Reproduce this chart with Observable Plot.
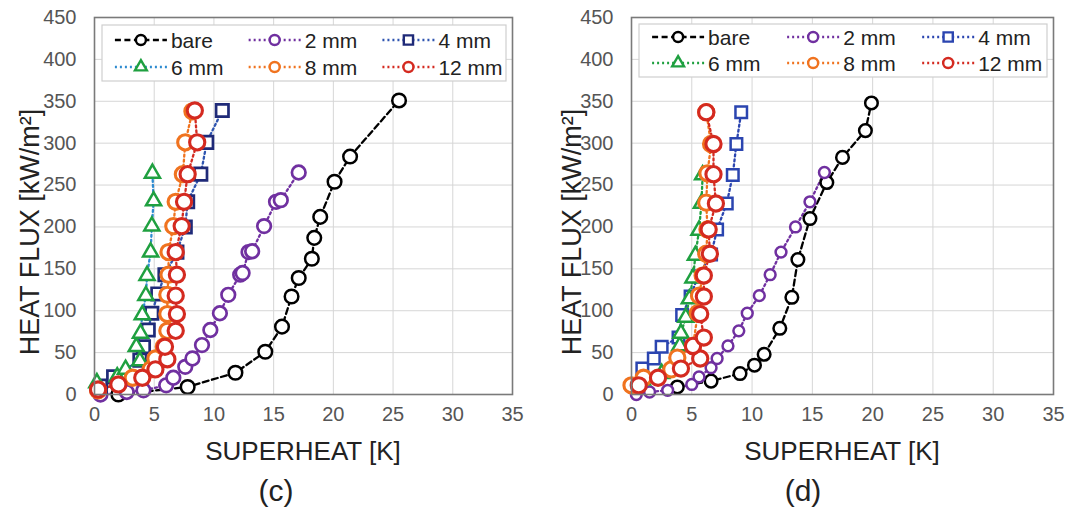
<!DOCTYPE html>
<html><head><meta charset="utf-8">
<script src="https://cdn.jsdelivr.net/npm/d3@7"></script>
<script src="https://cdn.jsdelivr.net/npm/@observablehq/plot@0.6"></script>
<style>
body{margin:0;background:#fff;font-family:"Liberation Sans",Arial,sans-serif;}
#wrap{position:relative;width:1067px;height:511px;overflow:hidden;}
.panel{position:absolute;top:0;}
.t{position:absolute;color:#222;white-space:nowrap;transform:translate(-50%,-50%);}
.xl{font-size:26px;}
.cap{font-size:30px;}
.yl{font-size:27px;transform:translate(-50%,-50%) rotate(-90deg);}
</style></head><body><div id="wrap"></div>
<script>
// ---------- data ----------
const seriesNames = ["bare", "2 mm", "4 mm", "6 mm", "8 mm", "12 mm"];
const xTicks = [0, 5, 10, 15, 20, 25, 30, 35];
const yTicks = [0, 50, 100, 150, 200, 250, 300, 350, 400, 450];
const panelLabels = ["(c)", "(d)"];
const xLabel = "SUPERHEAT [K]";
const yLabel = "HEAT FLUX [kW/m²]";

// panel (c): [superheat K, heat flux kW/m2]
const c_bare = [[2.0,0],[7.8,9],[11.8,26],[14.3,51],[15.7,81],[16.5,117],[17.1,139],[18.2,162],[18.4,187],[18.9,212],[20.1,254],[21.4,284],[25.5,351]];
const c_2mm = [[0.5,0],[2.7,3],[4.1,5],[6.0,11],[6.6,20],[7.6,33],[8.2,43],[9.0,59],[9.7,77],[10.5,97],[11.2,119],[12.2,143],[12.4,145],[12.9,170],[13.2,171],[14.2,201],[15.2,230],[15.6,232],[17.1,265]];
const c_4mm = [[0.5,10],[1.6,21],[3.8,41],[4.1,57],[4.5,77],[4.8,97],[5.3,120],[5.9,143],[6.9,170],[7.6,200],[7.8,230],[8.9,263],[9.4,301],[10.7,339]];
const c_6mm = [[0.2,14],[1.9,21],[2.6,30],[3.8,40],[3.5,57],[3.85,73],[4.0,95],[4.3,118],[4.4,142],[4.7,170],[4.8,201],[4.95,231],[4.85,264]];
const c_8mm = [[0.3,5],[3.2,20],[4.7,30],[5.1,43],[5.8,57],[6.1,76],[6.1,96],[6.1,119],[6.2,143],[6.2,170],[6.6,201],[6.8,230],[7.4,263],[7.6,301],[8.2,338]];
const c_12mm = [[0.3,6],[2.0,12],[4.0,20],[5.1,30],[6.1,42],[5.9,57],[6.8,76],[6.9,96],[6.8,118],[6.9,143],[6.8,170],[7.3,201],[7.5,230],[7.8,263],[8.6,301],[8.4,339]];

// panel (d)
const d_bare = [[3.8,9],[6.6,16],[9.0,25],[10.2,35],[11.0,48],[12.3,79],[13.3,116],[13.8,161],[14.8,210],[16.2,253],[17.5,283],[19.4,315],[19.9,348]];
const d_2mm = [[0.4,0],[1.5,3],[3.0,5],[5.0,12],[5.6,21],[6.6,32],[7.1,43],[8.0,58],[8.9,76],[9.6,97],[10.6,118],[11.5,143],[12.4,170],[13.6,200],[14.8,230],[16.0,265]];
const d_4mm = [[0.9,31],[1.85,43],[2.5,57],[3.9,68],[4.2,95],[4.9,117],[5.5,141],[6.6,167],[7.1,197],[7.9,228],[8.4,262],[8.7,299],[9.1,337]];
const d_6mm = [[0.9,17],[2.5,25],[3.5,33],[4.0,58],[4.1,73],[4.5,92],[4.8,114],[5.1,139],[5.3,166],[5.6,196],[5.8,228],[5.9,262]];
const d_8mm = [[0.0,11],[1.0,20],[3.3,30],[3.8,44],[5.1,58],[5.5,97],[5.6,118],[5.9,142],[6.2,168],[6.3,197],[6.2,229],[6.3,264],[6.6,299],[6.2,337]];
const d_12mm = [[0.6,11],[2.2,20],[4.1,31],[5.7,43],[5.1,58],[6.0,68],[5.7,96],[6.0,117],[6.0,142],[6.5,168],[6.4,197],[7.0,228],[6.8,263],[6.8,299],[6.2,337]];

// ---------- styles ----------
const stylesC = [
  {line:"#000000", mark:"#000000", dash:"6,3.5", symbol:"circle", r:6.8, sw:2.5},
  {line:"#7030A0", mark:"#7030A0", dash:"2,3", symbol:"circle", r:6.8, sw:2.7},
  {line:"#2F55B0", mark:"#1F2A78", dash:"2,3", symbol:"square", r:7.0, sw:2.7},
  {line:"#2E8BD0", mark:"#1FA040", dash:"2,3", symbol:"triangle", r:5.6, sw:2.5},
  {line:"#F0731F", mark:"#F0731F", dash:"2,3", symbol:"circle", r:7.6, sw:3.1},
  {line:"#D42A20", mark:"#D42A20", dash:"2,3", symbol:"circle", r:7.6, sw:3.1}
];
const stylesD = [
  {line:"#000000", mark:"#000000", dash:"6,3.5", symbol:"circle", r:6.3, sw:2.5},
  {line:"#7030A0", mark:"#7030A0", dash:"2,3", symbol:"circle", r:5.4, sw:2.5},
  {line:"#2B45B0", mark:"#2B45B0", dash:"2,3", symbol:"square", r:6.5, sw:2.5},
  {line:"#1FA040", mark:"#1FA040", dash:"2,3", symbol:"triangle", r:5.6, sw:2.5},
  {line:"#F0731F", mark:"#F0731F", dash:"2,3", symbol:"circle", r:7.6, sw:3.1},
  {line:"#D42A20", mark:"#D42A20", dash:"2,3", symbol:"circle", r:7.6, sw:3.1}
];

const toRows = arr => arr.map(([x, y]) => ({x, y}));

function makePanel(seriesData, styles, left, width, ml, mr, legendRows) {
  const marks = [
    Plot.gridX(xTicks, {stroke:"#d6d6d6", strokeOpacity:1, strokeWidth:1}),
    Plot.gridY(yTicks, {stroke:"#d6d6d6", strokeOpacity:1, strokeWidth:1})
  ];
  seriesData.forEach((d, i) => {
    const s = styles[i];
    marks.push(Plot.line(toRows(d), {x:"x", y:"y", stroke:s.line, strokeWidth:2.3, strokeDasharray:s.dash, curve:"linear"}));
  });
  seriesData.forEach((d, i) => {
    const s = styles[i];
    marks.push(Plot.dot(toRows(d), {x:"x", y:"y", symbol:s.symbol, r:s.r, stroke:s.mark, fill:"white", strokeWidth:s.sw}));
  });
  marks.push(Plot.frame({stroke:"#7a7a7a", strokeWidth:1.6}));
  marks.push(Plot.axisX(xTicks, {tickSize:0, tickPadding:12, label:null, fontSize:20, fill:"#555"}));
  marks.push(Plot.axisY(yTicks, {tickSize:0, tickPadding:18, label:null, fontSize:20, fill:"#555"}));
  const svg = Plot.plot({
    width, height:430,
    marginLeft:ml, marginRight:mr, marginTop:17, marginBottom:36,
    x:{domain:[0,35]}, y:{domain:[0,450]},
    style:{fontFamily:"'Liberation Sans', Arial, sans-serif", fontSize:"20px", color:"#555", background:"white", overflow:"visible"},
    marks
  });
  svg.classList.add("panel");
  svg.style.left = left + "px";
  document.getElementById("wrap").appendChild(svg);

  // legend (inside frame)
  const fl = ml, fw = width - ml - mr;
  const g = d3.select(svg).append("g").attr("text-anchor", "start");
  g.append("rect").attr("x", fl + 8).attr("y", legendRows.top).attr("width", fw - 14).attr("height", legendRows.h)
    .attr("fill", "white").attr("stroke", "#cfcfcf").attr("stroke-width", 1.2);
  const colFrac = [0.05, 0.37, 0.69];
  seriesNames.forEach((name, i) => {
    const s = styles[i];
    const col = i % 3, row = Math.floor(i / 3);
    const x0 = fl + colFrac[col] * fw, y0 = legendRows.rows[row];
    const len = 52;
    g.append("line").attr("x1", x0).attr("x2", x0 + len).attr("y1", y0).attr("y2", y0)
      .attr("stroke", s.line).attr("stroke-width", 2.3).attr("stroke-dasharray", s.dash);
    const cx = x0 + len / 2;
    const sym = {circle:d3.symbolCircle, square:d3.symbolSquare, triangle:d3.symbolTriangle}[s.symbol];
    const rr = s.symbol === "circle" ? 5 : s.symbol === "square" ? 5.2 : 4.4;
    g.append("path").attr("d", d3.symbol(sym, Math.PI * rr * rr)()).attr("transform", `translate(${cx},${y0})`)
      .attr("fill", "white").attr("stroke", s.mark).attr("stroke-width", 2.4);
    g.append("text").attr("x", x0 + len + 4).attr("y", y0).attr("dy", "0.36em")
      .attr("font-size", 21).attr("fill", "#222").text(name);
  });
}

makePanel([c_bare, c_2mm, c_4mm, c_6mm, c_8mm, c_12mm], stylesC, 0, 533, 94, 21, {top:25, h:56, rows:[40, 67]});
makePanel([d_bare, d_2mm, d_4mm, d_6mm, d_8mm, d_12mm], stylesD, 533, 534, 98, 14, {top:24, h:53, rows:[37, 63]});

// text labels
const wrap = document.getElementById("wrap");
function addText(cls, txt, x, y) {
  const d = document.createElement("div");
  d.className = "t " + cls; d.textContent = txt;
  d.style.left = x + "px"; d.style.top = y + "px";
  wrap.appendChild(d);
}
addText("xl", xLabel, 303, 451);
addText("xl", xLabel, 842, 451);
addText("cap", panelLabels[0], 276, 491);
addText("cap", panelLabels[1], 803, 491);
addText("yl", yLabel, 30, 232);
addText("yl", yLabel, 572, 232);
</script></body></html>
